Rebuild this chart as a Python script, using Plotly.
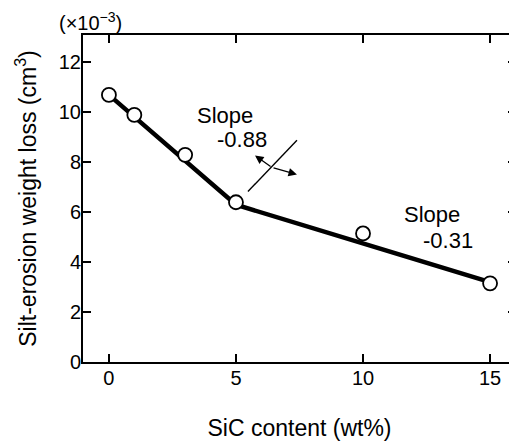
import plotly.graph_objects as go

# Data
sic_content = [0, 1, 3, 5, 10, 15]
weight_loss = [10.7, 9.9, 8.3, 6.4, 5.15, 3.15]   # x10^-3 cm^3

fit_x = [0, 5, 15]
fit_y = [10.7, 6.3, 3.2]

x_ticks = [0, 5, 10, 15]
y_ticks = [0, 2, 4, 6, 8, 10, 12]

slope_labels = ["Slope", "-0.88", "Slope", "-0.31"]
slope_label_x = [4.57, 5.24, 12.7, 13.35]
slope_label_y = [9.88, 8.92, 5.9, 4.86]

# break marker (diagonal line and arrows)
break_line_x = [5.47, 7.40]
break_line_y = [6.83, 8.88]
arrow_tail = (6.42, 7.79)
arrow_heads_x = [5.75, 7.40]
arrow_heads_y = [8.27, 7.51]

FONT = "Liberation Sans, Arial, sans-serif"

fig = go.Figure()
fig.add_trace(go.Scatter(
    x=fit_x, y=fit_y, mode="lines",
    line=dict(color="black", width=4.5),
    showlegend=False, hoverinfo="skip"))
fig.add_trace(go.Scatter(
    x=sic_content, y=weight_loss, mode="markers",
    marker=dict(symbol="circle", size=14, color="white",
                line=dict(color="black", width=1.8)),
    showlegend=False))

for t, xx, yy in zip(slope_labels, slope_label_x, slope_label_y):
    fig.add_annotation(x=xx, y=yy, xref="x", yref="y", text=t,
                       showarrow=False, font=dict(size=22, color="black", family=FONT))

fig.add_shape(type="line", xref="x", yref="y",
              x0=break_line_x[0], y0=break_line_y[0],
              x1=break_line_x[1], y1=break_line_y[1],
              line=dict(color="black", width=1.4))
for hx, hy in zip(arrow_heads_x, arrow_heads_y):
    fig.add_annotation(x=hx, y=hy, ax=arrow_tail[0], ay=arrow_tail[1],
                       xref="x", yref="y", axref="x", ayref="y", text="",
                       showarrow=True, arrowhead=2, arrowsize=1.3,
                       arrowwidth=1.3, arrowcolor="black")

fig.add_annotation(x=0.018, y=1.04, xref="paper", yref="paper",
                   xanchor="center", yanchor="middle",
                   text="(×10<sup>−3</sup>)", showarrow=False,
                   font=dict(size=20, color="black", family=FONT))

axis_common = dict(
    showline=True, linecolor="black", linewidth=2, mirror="allticks",
    ticks="inside", ticklen=8, tickwidth=2, tickcolor="black",
    showgrid=False, zeroline=False, automargin=False,
    tickfont=dict(size=20, color="black", family=FONT),
)

fig.update_xaxes(range=[-1.02, 16.02], tickvals=x_ticks, ticklabelstandoff=-3,
                 title=dict(text="SiC content (wt%)",
                            font=dict(size=23, color="black", family=FONT),
                            standoff=36),
                 **axis_common)
fig.update_yaxes(range=[0, 13.1], tickvals=y_ticks, ticklabelstandoff=-4,
                 title=dict(text="Silt-erosion weight loss (cm<sup>3</sup>)",
                            font=dict(size=23, color="black", family=FONT),
                            standoff=16),
                 **axis_common)

# the page places the figure 8 px in from the top-left corner
fig.update_layout(
    width=509, height=433,
    margin=dict(l=75, r=1, t=27, b=79),
    paper_bgcolor="white", plot_bgcolor="white",
    font=dict(family=FONT, color="black"),
)

fig.write_html("out.html")
